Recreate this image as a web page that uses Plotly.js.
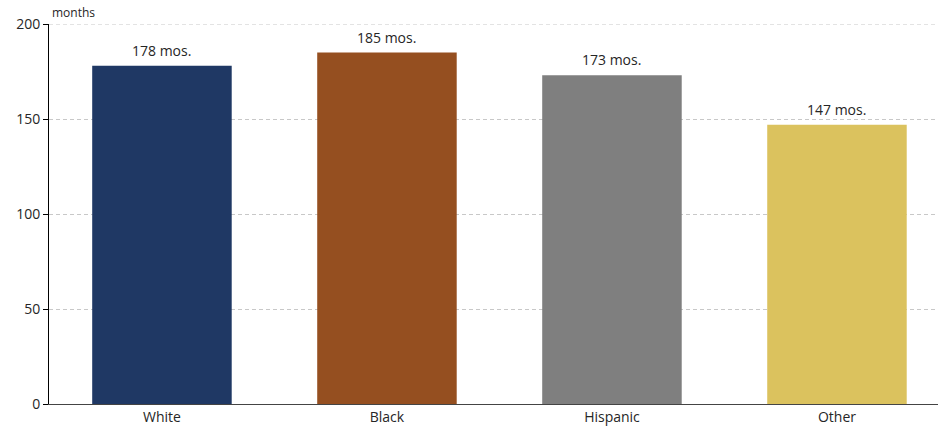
<!DOCTYPE html>
<html>
<head>
<meta charset="utf-8">
<script src="https://cdn.plot.ly/plotly-3.0.1.min.js"></script>
<style>html,body{margin:0;padding:0;background:#fff;}#chart{width:938px;height:428px;}</style>
</head>
<body>
<div id="chart"></div>
<script>
const categories = ["White", "Black", "Hispanic", "Other"];
const values = [178, 185, 173, 147];
const labels = ["178 mos.", "185 mos.", "173 mos.", "147 mos."];
const colors = ["#1F3864", "#954F20", "#7F7F7F", "#DBC25E"];
const yTicks = [0, 50, 100, 150, 200];

const font = "'Open Sans', sans-serif";
const textColor = "#262626";
const yMax = yTicks[yTicks.length - 1];

const trace = {
  type: "bar",
  x: categories,
  y: values,
  marker: {color: colors, line: {width: 0}},
  width: 0.62,
  hoverinfo: "skip"
};

const labelAnnotations = categories.map((c, i) => ({
  text: labels[i],
  xref: "x", yref: "y",
  x: c, y: values[i],
  xanchor: "center", yanchor: "bottom",
  yshift: 4,
  showarrow: false,
  font: {family: font, size: 14, color: textColor}
}));

const layout = {
  width: 938,
  height: 428,
  margin: {l: 49, r: 0, t: 24, b: 24, pad: 0},
  paper_bgcolor: "#fff",
  plot_bgcolor: "#fff",
  showlegend: false,
  font: {family: font, size: 14, color: textColor},
  xaxis: {
    type: "category",
    range: [-0.502, 3.449],
    showgrid: false,
    showline: true,
    linecolor: "#444",
    linewidth: 1,
    ticks: "",
    tickfont: {family: font, size: 14, color: textColor},
    zeroline: false
  },
  yaxis: {
    range: [0, yMax],
    tickvals: yTicks,
    ticktext: yTicks.map(String),
    showline: true,
    linecolor: "#000",
    linewidth: 1,
    ticks: "outside",
    ticklen: 5,
    tickcolor: "#000",
    tickfont: {family: font, size: 14, color: textColor},
    showgrid: true,
    gridcolor: "#c8c8c8",
    griddash: "4px,3px",
    gridwidth: 1,
    zeroline: false
  },
  shapes: [{
    type: "line",
    xref: "paper", yref: "y",
    x0: 0, x1: 1, y0: yMax, y1: yMax,
    line: {color: "#c8c8c8", width: 1, dash: "4px,3px"},
    layer: "below"
  }],
  annotations: [{
    text: "months",
    xref: "x", yref: "paper",
    x: -0.502, y: 1,
    xanchor: "left", yanchor: "bottom",
    xshift: 1, yshift: 1,
    showarrow: false,
    font: {family: font, size: 12, color: textColor}
  }].concat(labelAnnotations)
};

Plotly.newPlot("chart", [trace], layout, {displayModeBar: false, staticPlot: true});
</script>
</body>
</html>
